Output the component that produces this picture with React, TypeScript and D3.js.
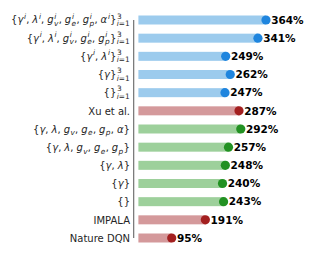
import * as d3 from "d3";
import { useEffect, useRef } from "react";

const categories = [
  "{γ^i, λ^i, g_v^i, g_e^i, g_p^i, α^i}_{i=1}^3",
  "{γ^i, λ^i, g_v^i, g_e^i, g_p^i}_{i=1}^3",
  "{γ^i, λ^i}_{i=1}^3",
  "{γ}_{i=1}^3",
  "{}_{i=1}^3",
  "Xu et al.",
  "{γ, λ, g_v, g_e, g_p, α}",
  "{γ, λ, g_v, g_e, g_p}",
  "{γ, λ}",
  "{γ}",
  "{}",
  "IMPALA",
  "Nature DQN",
];
const scores = [364, 341, 249, 262, 247, 287, 292, 257, 248, 240, 243, 191, 95];
const groups = [
  "multi", "multi", "multi", "multi", "multi",
  "baseline",
  "single", "single", "single", "single", "single",
  "baseline", "baseline",
];

const barColor: Record<string, string> = {
  multi: "#9ccbed",
  single: "#9dd09b",
  baseline: "#d4999b",
};
const dotColor: Record<string, string> = {
  multi: "#1f85de",
  single: "#229122",
  baseline: "#a31f1f",
};

type Token = { base: string; sub?: string; sup?: string };

// tiny mathtext-ish parser: chars with optional _x / ^x / _{..} / ^{..}
function tokenize(s: string): Token[] {
  const out: Token[] = [];
  let i = 0;
  const readScript = () => {
    if (s[i] === "{") {
      const end = s.indexOf("}", i);
      const t = s.slice(i + 1, end);
      i = end + 1;
      return t;
    }
    return s[i++];
  };
  while (i < s.length) {
    const tok: Token = { base: s[i++] };
    while (s[i] === "_" || s[i] === "^") {
      const kind = s[i++];
      const txt = readScript();
      if (kind === "_") tok.sub = txt;
      else tok.sup = txt;
    }
    out.push(tok);
  }
  return out;
}

const isLetter = (c: string) => /[a-zA-Zα-ω]/.test(c);

const App = () => {
  const svgRef = useRef<SVGSVGElement | null>(null);

  useEffect(() => {
    const svg = d3.select(svgRef.current);
    svg.selectAll("*").remove();

    const x = d3.scaleLinear().domain([0, 364]).range([138.4, 266]);
    const y = d3
      .scalePoint<number>()
      .domain(d3.range(categories.length))
      .range([20, 238]);
    const barH = 9;

    // left spine, trimmed and offset
    svg
      .append("line")
      .attr("x1", 133.7)
      .attr("x2", 133.7)
      .attr("y1", y(0)!)
      .attr("y2", y(categories.length - 1)!)
      .attr("stroke", "#666")
      .attr("stroke-width", 1.1);

    svg
      .selectAll(".bar")
      .data(scores)
      .enter()
      .append("rect")
      .attr("class", "bar")
      .attr("x", x(0))
      .attr("y", (_d, i) => y(i)! - barH / 2)
      .attr("width", (d) => x(d) - x(0))
      .attr("height", barH)
      .attr("fill", (_d, i) => barColor[groups[i]]);

    svg
      .selectAll(".dot")
      .data(scores)
      .enter()
      .append("circle")
      .attr("class", "dot")
      .attr("cx", (d) => x(d))
      .attr("cy", (_d, i) => y(i)!)
      .attr("r", 4.6)
      .attr("fill", (_d, i) => dotColor[groups[i]]);

    svg
      .selectAll(".val")
      .data(scores)
      .enter()
      .append("text")
      .attr("class", "val")
      .attr("x", (d) => x(d) + 5.2)
      .attr("y", (_d, i) => y(i)! + 3.8)
      .attr("font-family", "DejaVu Sans")
      .attr("font-weight", "bold")
      .attr("font-size", 10.5)
      .attr("fill", "#000")
      .text((d) => `${d}%`);

    // category labels, right aligned at x = 130
    const fs = 10;
    const sfs = 7.4;
    categories.forEach((label, i) => {
      const cy = y(i)!;
      const g = svg.append("g");
      const isMath = label.includes("{");
      if (!isMath) {
        g.append("text")
          .attr("x", 130)
          .attr("y", cy + 3.8)
          .attr("text-anchor", "end")
          .attr("font-family", "DejaVu Sans")
          .attr("font-size", fs)
          .attr("fill", "#262626")
          .text(label);
        return;
      }
      const hasOuterScript = label.includes("_{i=1}");
      const base = cy + (hasOuterScript ? 3.4 : 3.8);
      let cursor = 0;
      const put = (txt: string, px: number, py: number, size: number) => {
        let w = 0;
        for (const ch of txt) {
          const t = g
            .append("text")
            .attr("x", px + w)
            .attr("y", py)
            .attr("font-family", "DejaVu Sans")
            .attr("font-size", size)
            .attr("font-style", isLetter(ch) ? "italic" : "normal")
            .attr("fill", "#262626")
            .text(ch);
          w += (t.node() as SVGTextElement).getComputedTextLength();
        }
        return w;
      };
      tokenize(label).forEach((tok) => {
        if (tok.base === " ") {
          cursor += 3;
          return;
        }
        cursor += put(tok.base, cursor, base, fs);
        let sw = 0;
        if (tok.sub) sw = Math.max(sw, put(tok.sub, cursor + 0.4, base + 2.6, sfs));
        if (tok.sup) sw = Math.max(sw, put(tok.sup, cursor + 0.7, base - 4.6, sfs));
        cursor += sw + (sw ? 0.7 : 0);
      });
      g.attr("transform", `translate(${130 - cursor},0)`);
    });
  }, []);

  return (
    <svg
      ref={svgRef}
      width={324}
      height={259}
      style={{ position: "absolute", left: 0, top: 0, background: "#fff" }}
    />
  );
};

export default App;
